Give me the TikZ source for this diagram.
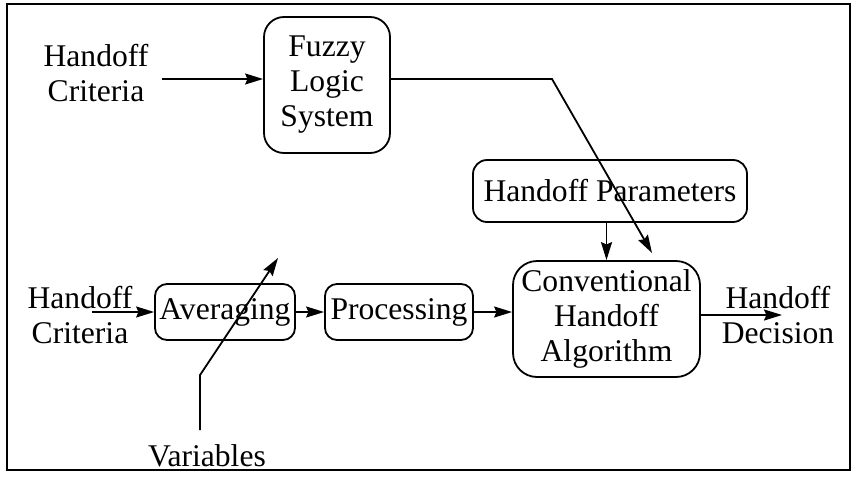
\documentclass[tikz,border=0pt]{standalone}
\usepackage{fontspec}
\setmainfont{Liberation Serif}
\usetikzlibrary{arrows.meta}
\begin{document}
\begin{tikzpicture}[x=0.5pt,y=-0.5pt,
  every node/.style={font=\fontsize{15.8}{17.5}\selectfont, inner sep=0pt, align=center},
  blk/.style={draw, line width=0.9pt},
  conn/.style={line width=0.9pt, -{Stealth[length=9pt,width=5.5pt,inset=1.2pt]}},
  plain/.style={line width=0.9pt}]
\useasboundingbox (0,0) rectangle (855,482);
\draw[line width=1pt] (7,4) rectangle (850,470);
% nodes
\node (crit1) at (96,73) {Handoff\\Criteria};
\node[blk, rounded corners=10pt, minimum width=63pt, minimum height=68pt] (fuzzy) at (327,85) {Fuzzy\\Logic\\System};
\node[blk, rounded corners=7pt, minimum width=137pt, minimum height=31pt] (hp) at (610,191) {Handoff Parameters};
\node[blk, rounded corners=12pt, minimum width=93.5pt, minimum height=58pt] (conv) at (606.5,319) {Conventional\\Handoff\\Algorithm};
\node[blk, rounded corners=6pt, minimum width=70pt, minimum height=28pt] (avg) at (225,312) {Averaging};
\node[blk, rounded corners=6pt, minimum width=74pt, minimum height=28pt] (proc) at (399,312) {Processing};
\node (crit2) at (80,315) {Handoff\\Criteria};
\node (dec) at (778,315) {Handoff\\Decision};
\node (var) at (207,456) {Variables};
% coordinates
\coordinate (in1) at (162,79);
\coordinate (bend) at (552,79);
\coordinate (tip1) at (652,253);
\coordinate (in2) at (92,312);
\coordinate (out) at (782,315);
\coordinate (vbot) at (200,430);
\coordinate (vmid) at (200,375);
\coordinate (vtip) at (278,258);
% connectors
\draw[conn] (in1) -- (in1 -| fuzzy.west);
\draw[conn] (in1 -| fuzzy.east) -- (bend) -- (tip1);
\draw[conn] (conv.north |- hp.south) -- (conv.north);
\draw[conn] (in2) -- (avg.west);
\draw[conn] (avg.east) -- (proc.west);
\draw[conn] (proc.east) -- (proc.east -| conv.west);
\draw[conn] (out -| conv.east) -- (out);
\draw[conn] (vbot) -- (vmid) -- (vtip);
\end{tikzpicture}
\end{document}
